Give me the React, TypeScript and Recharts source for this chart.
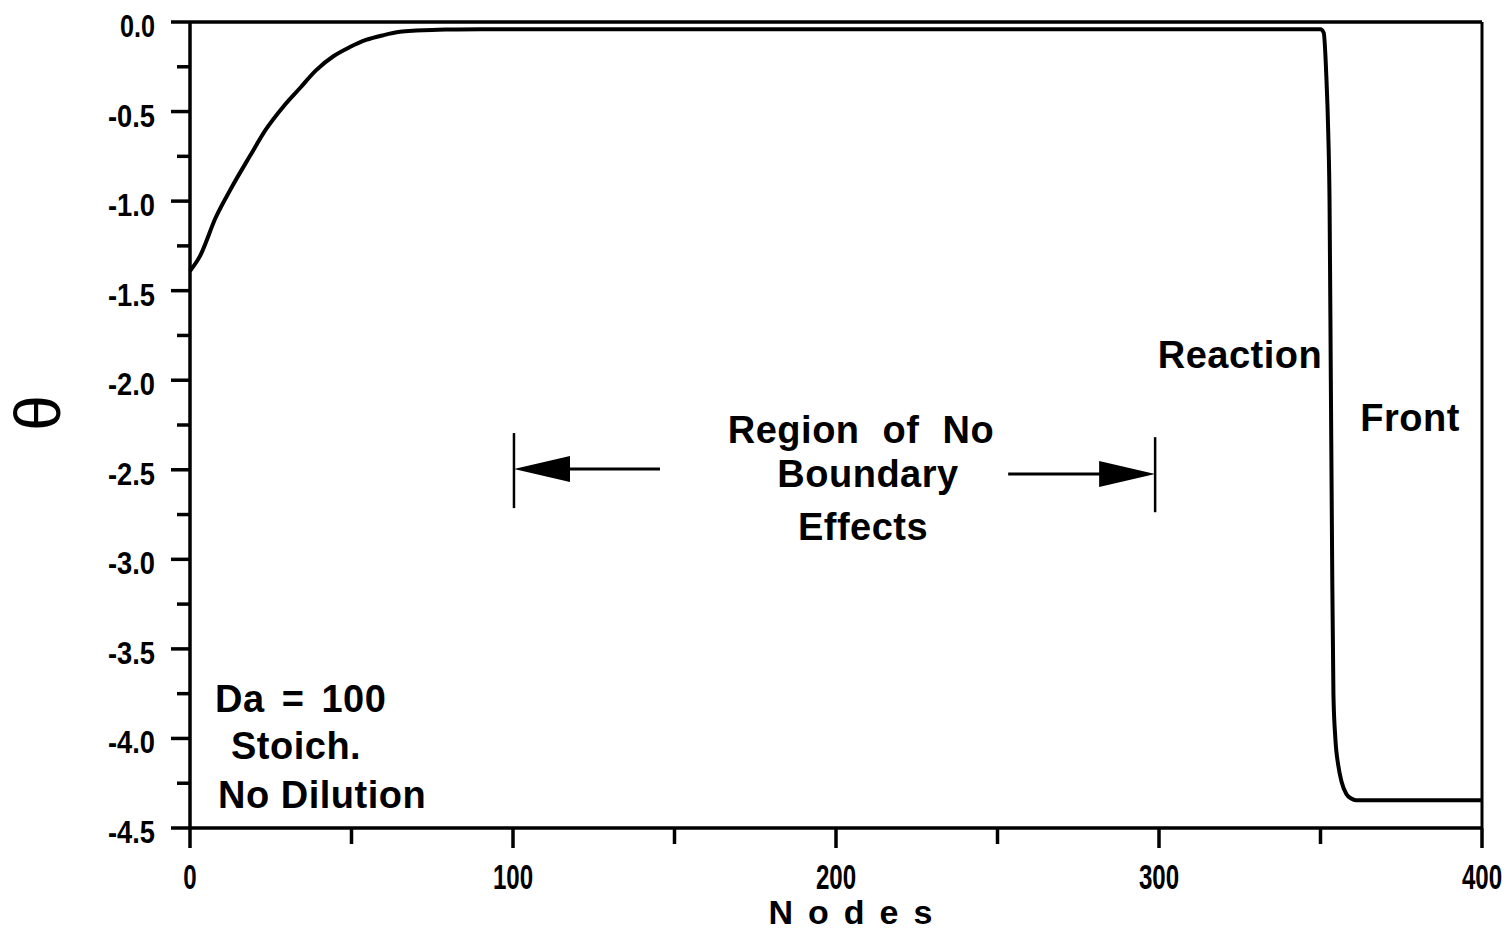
import { LineChart, Line, XAxis, YAxis, ReferenceLine, ReferenceDot, Customized } from 'recharts';

// temperature profile
const nodes = [0, 3, 8, 13, 18.5, 23.5, 29, 34, 39, 44.5, 49.5, 54.5, 60, 65, 70, 75, 80, 90, 100, 150, 200, 250, 300, 350, 351, 351.8, 352.4, 352.8, 353.2, 353.6, 354, 354.6, 355.5, 356.5, 358, 359.5, 361, 380, 400];
const theta = [-1.39, -1.31, -1.09, -0.92, -0.75, -0.6, -0.47, -0.37, -0.27, -0.19, -0.14, -0.1, -0.073, -0.055, -0.048, -0.044, -0.042, -0.04, -0.04, -0.04, -0.04, -0.04, -0.04, -0.04, -0.06, -0.3, -0.62, -1.0, -2.0, -3.0, -3.75, -4.0, -4.15, -4.24, -4.31, -4.335, -4.345, -4.345, -4.345];

const xTicks = [0, 50, 100, 150, 200, 250, 300, 350, 400];
const yTicks = [0, -0.25, -0.5, -0.75, -1, -1.25, -1.5, -1.75, -2, -2.25, -2.5, -2.75, -3, -3.25, -3.5, -3.75, -4, -4.25, -4.5];

const data = nodes.map((n, i) => ({ node: n, theta: theta[i] }));

const sans = '"Liberation Sans", Arial, Helvetica, sans-serif';

// the tick numbers are a squeezed bold face, so they get compressed
const YTick = ({ x, y, payload }: any) => {
  const v = payload.value;
  const major = Math.abs(v * 2 - Math.round(v * 2)) < 1e-6;
  const label = v === 0 ? '0.0' : v.toFixed(1);
  return (
    <g>
      <line x1={x - (major ? 19 : 13)} x2={x} y1={y} y2={y} stroke="#000" strokeWidth={3.5} />
      {major && (
        <text x={x - 35} y={y} dy={15} textAnchor="end" fontFamily={sans} fontWeight="bold" fontSize={32}
          textLength={label.length === 3 ? 35 : 47} lengthAdjust="spacingAndGlyphs" fill="#000">
          {label}
        </text>
      )}
    </g>
  );
};

const XTick = ({ x, y, payload }: any) => {
  const v = payload.value;
  const major = v % 100 === 0;
  return (
    <g>
      <line x1={x} x2={x} y1={y} y2={y + (major ? 20 : 16)} stroke="#000" strokeWidth={3.5} />
      {major && (
        <text x={0} y={0} transform={`translate(${x},${y + 61}) scale(0.67,1)`} textAnchor="middle"
          fontFamily={sans} fontWeight="bold" fontSize={36} fill="#000">
          {v}
        </text>
      )}
    </g>
  );
};

const arrowHead = (dir: number) => (props: any) => {
  const { cx, cy } = props;
  const len = 56;
  const h = 13;
  return <polygon points={`${cx},${cy} ${cx + dir * len},${cy - h} ${cx + dir * len},${cy + h}`} fill="#000" />;
};

const Labels = () => (
  <g fontFamily={sans} fontWeight="bold" fill="#000">
    <text x={38} y={413} fontSize={64} fontWeight="normal" textAnchor="middle" dominantBaseline="central" transform="rotate(-90 38 413)">
      θ
    </text>
    <text x={858} y={924} fontSize={34} textAnchor="middle" letterSpacing={15}>Nodes</text>
    <g fontSize={38} letterSpacing={0.5}>
      <text x={1240} y={368} textAnchor="middle">Reaction</text>
      <text x={1410} y={431} textAnchor="middle">Front</text>
      <text x={861} y={443} textAnchor="middle" wordSpacing={12}>Region of No</text>
      <text x={868} y={487} textAnchor="middle">Boundary</text>
      <text x={863} y={540} textAnchor="middle">Effects</text>
      <text x={215} y={712} wordSpacing={6}>Da = 100</text>
      <text x={231} y={759}>Stoich.</text>
      <text x={218} y={808}>No Dilution</text>
    </g>
  </g>
);

export default function App() {
  return (
    <div style={{ position: 'absolute', left: 0, top: 0, width: 1510, height: 933, background: '#fff' }}>
      <LineChart width={1510} height={933} data={data} margin={{ top: 22, right: 28, left: 130, bottom: 75 }}>
        <XAxis
          dataKey="node"
          type="number"
          domain={[0, 400]}
          ticks={xTicks}
          height={30}
          tickSize={0}
          tickMargin={0}
          tickLine={false}
          axisLine={{ stroke: '#000', strokeWidth: 3.5 }}
          tick={<XTick />}
          interval={0}
        />
        <YAxis
          type="number"
          domain={[-4.5, 0]}
          ticks={yTicks}
          width={60}
          tickSize={0}
          tickMargin={0}
          tickLine={false}
          axisLine={{ stroke: '#000', strokeWidth: 3.5 }}
          tick={<YTick />}
          interval={0}
        />
        <ReferenceLine y={0} stroke="#000" strokeWidth={3.5} />
        <ReferenceLine x={400} stroke="#000" strokeWidth={3} />
        <Line dataKey="theta" type="monotone" stroke="#000" strokeWidth={4} dot={false} isAnimationActive={false} />
        <ReferenceLine segment={[{ x: 100.3, y: -2.295 }, { x: 100.3, y: -2.714 }]} stroke="#000" strokeWidth={2.5} />
        <ReferenceLine segment={[{ x: 117, y: -2.496 }, { x: 145.5, y: -2.496 }]} stroke="#000" strokeWidth={3} />
        <ReferenceDot x={100.3} y={-2.496} shape={arrowHead(1)} />
        <ReferenceLine segment={[{ x: 298.8, y: -2.318 }, { x: 298.8, y: -2.737 }]} stroke="#000" strokeWidth={2.5} />
        <ReferenceLine segment={[{ x: 253.3, y: -2.524 }, { x: 282, y: -2.524 }]} stroke="#000" strokeWidth={3} />
        <ReferenceDot x={298.8} y={-2.524} shape={arrowHead(-1)} />
        <Customized component={Labels} />
      </LineChart>
    </div>
  );
}
